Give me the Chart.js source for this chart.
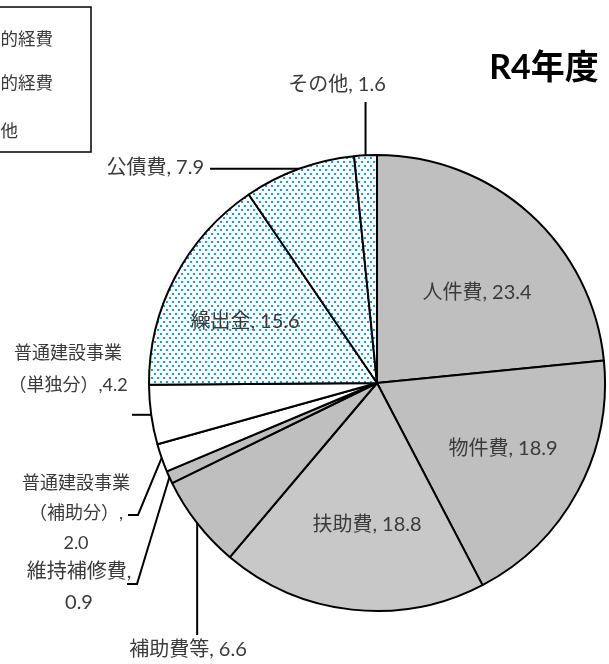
<!DOCTYPE html>
<html lang="ja">
<head>
<meta charset="utf-8">
<script src="https://cdn.jsdelivr.net/npm/chart.js@4"></script>
<style>
  html, body { margin: 0; padding: 0; background: #fff; }
  #wrap { position: relative; width: 609px; height: 664px; }
</style>
</head>
<body>
<div id="wrap"><canvas id="pieChart" width="609" height="664"></canvas></div>
<script>
// 歳出（性質別）構成比 R4年度, %
var categories = ['人件費', '物件費', '扶助費', '補助費等', '維持補修費',
                  '普通建設事業（補助分）', '普通建設事業（単独分）', '繰出金', '公債費', 'その他'];
var shares = [23.4, 18.9, 18.8, 6.6, 0.9, 2.0, 4.2, 15.6, 7.9, 1.6];
var groups = ['義務的経費', '義務的経費', '義務的経費', 'その他', 'その他',
              '投資的経費', '投資的経費', 'その他', '義務的経費', 'その他'];
var legendLabels = ['義務的経費', '投資的経費', 'その他'];
var titleText = 'R4年度';

var fontFamily = 'Lato, "Noto Sans CJK JP", sans-serif';

// blue dot pattern used for the "その他" group slices
function dotPattern() {
    var c = document.createElement('canvas');
    c.width = 6; c.height = 8;
    var g = c.getContext('2d');
    g.fillStyle = '#ffffff';
    g.fillRect(0, 0, 6, 8);
    g.fillStyle = '#0aa6e4';
    g.fillRect(1, 1, 2, 2);
    g.fillRect(4, 5, 2, 2);
    return g.createPattern(c, 'repeat');
}
var dots = dotPattern();

var fills = ['#bfbfbf', '#bfbfbf', '#c8c8c8', '#bfbfbf', '#bfbfbf',
             '#ffffff', '#ffffff', dots, dots, dots];

function labelText(i) {
    return categories[i] + ', ' + shares[i].toFixed(1);
}

// label placement (pixels), leaders start at the middle of each slice's rim
var insideLabels = [
    { i: 0, x: 477, y: 293 },
    { i: 1, x: 503, y: 449 },
    { i: 2, x: 367, y: 525 },
    { i: 7, x: 245, y: 322 }
];
var outsideLabels = [
    { i: 9, size: 20, align: 'center', x: 337, y: 85,
      lines: function () { return [labelText(9)]; },
      leader: function (a) { return [[a.x, a.y], [a.x, 102]]; } },
    { i: 8, size: 20, align: 'right', x: 204, y: 168,
      lines: function () { return [labelText(8)]; },
      leader: function (a) { return [[a.x, a.y], [210, a.y]]; } },
    { i: 6, size: 18, align: 'center', x: 68, y: 353, gap: 32,
      lines: function () { return ['普通建設事業', '（単独分）,' + shares[6].toFixed(1)]; },
      leader: function (a) { return [[a.x, a.y], [132, a.y]]; } },
    { i: 5, size: 18, align: 'center', x: 76, y: 483, gap: 30,
      lines: function () { return ['普通建設事業', '（補助分）,', shares[5].toFixed(1)]; },
      leader: function (a) { return [[a.x, a.y], [138, 515], [128, 515]]; } },
    { i: 4, size: 20, align: 'center', x: 79, y: 572, gap: 31,
      lines: function () { return ['維持補修費,', shares[4].toFixed(1)]; },
      leader: function (a) { return [[a.x, a.y], [137, 584], [127, 584]]; } },
    { i: 3, size: 20, align: 'center', x: 188, y: 650,
      lines: function () { return [labelText(3)]; },
      leader: function (a) { return [[a.x, a.y], [a.x, 635]]; } }
];

var labelPlugin = {
    id: 'sliceLabels',
    afterDatasetsDraw: function (chart) {
        var ctx = chart.ctx;
        var meta = chart.getDatasetMeta(0);
        ctx.save();
        ctx.fillStyle = '#3a3a3a';
        ctx.textBaseline = 'middle';

        insideLabels.forEach(function (l) {
            ctx.font = '20px ' + fontFamily;
            ctx.textAlign = 'center';
            ctx.fillText(labelText(l.i), l.x, l.y);
        });

        outsideLabels.forEach(function (l) {
            var arc = meta.data[l.i];
            var mid = (arc.startAngle + arc.endAngle) / 2;
            var a = { x: arc.x + Math.cos(mid) * arc.outerRadius,
                      y: arc.y + Math.sin(mid) * arc.outerRadius };
            var pts = l.leader(a);
            ctx.strokeStyle = '#000';
            ctx.lineWidth = 2;
            ctx.beginPath();
            ctx.moveTo(pts[0][0], pts[0][1]);
            for (var k = 1; k < pts.length; k++) ctx.lineTo(pts[k][0], pts[k][1]);
            ctx.stroke();

            ctx.font = l.size + 'px ' + fontFamily;
            ctx.textAlign = l.align;
            l.lines().forEach(function (t, k) {
                ctx.fillText(t, l.x, l.y + k * (l.gap || 0));
            });
        });

        // title
        ctx.fillStyle = '#000';
        ctx.font = 'bold 34px ' + fontFamily;
        ctx.textAlign = 'center';
        ctx.fillText(titleText, 544, 68);
        ctx.restore();
    }
};

// group legend box (partly outside the picture on the left)
var groupLegendPlugin = {
    id: 'groupLegend',
    afterDraw: function (chart) {
        var ctx = chart.ctx;
        var swatch = { '義務的経費': '#bfbfbf', '投資的経費': '#ffffff', 'その他': dots };
        ctx.save();
        ctx.strokeStyle = '#000';
        ctx.lineWidth = 1.5;
        ctx.strokeRect(-80, 7, 171, 145);
        ctx.font = '17.5px ' + fontFamily;
        ctx.textBaseline = 'middle';
        ctx.textAlign = 'left';
        var x0 = 53 - ctx.measureText(legendLabels[0]).width;
        var ys = [39, 83, 131];
        legendLabels.forEach(function (t, k) {
            ctx.fillStyle = swatch[t];
            ctx.fillRect(x0 - 24, ys[k] - 6, 14, 12);
            ctx.strokeStyle = '#000';
            ctx.lineWidth = 1;
            ctx.strokeRect(x0 - 24, ys[k] - 6, 14, 12);
            ctx.fillStyle = '#3a3a3a';
            ctx.fillText(t, x0, ys[k]);
        });
        ctx.restore();
    }
};

new Chart(document.getElementById('pieChart').getContext('2d'), {
    type: 'pie',
    data: {
        labels: categories,
        datasets: [{
            data: shares,
            backgroundColor: fills,
            borderColor: '#000000',
            borderWidth: 2
        }]
    },
    options: {
        responsive: false,
        animation: false,
        layout: { padding: { left: 148, right: 3, top: 154, bottom: 52 } },
        plugins: {
            legend: { display: false },
            tooltip: { enabled: false },
            title: { display: false }
        }
    },
    plugins: [labelPlugin, groupLegendPlugin]
});
</script>
</body>
</html>
